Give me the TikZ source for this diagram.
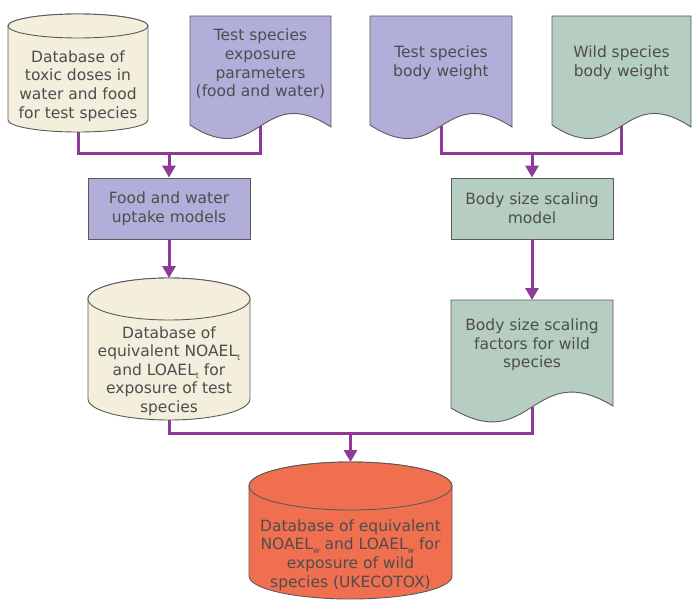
\documentclass[tikz,border=0pt]{standalone}
\usepackage{fontspec}
\setmainfont{DejaVu Sans}
\usetikzlibrary{arrows.meta}
\definecolor{cream}{HTML}{F3EFDC}
\definecolor{lav}{HTML}{B2AEDA}
\definecolor{sage}{HTML}{B6CEC1}
\definecolor{orng}{HTML}{EF6F4F}
\definecolor{wirecol}{HTML}{8E3A98}
\definecolor{txt}{HTML}{4D4D4D}
\definecolor{edgecol}{HTML}{5A5A5A}
\newcommand{\lowsub}[1]{\raisebox{-3.5pt}{\fontsize{8}{8}\selectfont #1}}
\begin{document}
\begin{tikzpicture}[x=1pt,y=-1pt,
  shapeline/.style={draw=edgecol,line width=0.9pt},
  lbl/.style={text=txt,font=\fontsize{15.5}{18.6}\selectfont,align=center,inner sep=0pt},
  boxnode/.style={shapeline,minimum width=162pt,minimum height=61pt,inner sep=0pt,lbl},
  wire/.style={draw=wirecol,line width=3pt,line join=miter},
  arr/.style={wire,-{Triangle[length=12pt,width=13pt]}}]
\useasboundingbox (0,0) rectangle (692,602);

% ---- cylinder 1
\path[shapeline,fill=cream] (8,26) -- (8,120) arc[start angle=180,end angle=0,x radius=70,y radius=12] -- (148,26) arc[start angle=0,end angle=-180,x radius=70,y radius=12] -- cycle;
\path[shapeline,fill=cream] (78,26) ellipse[x radius=70,y radius=12];
\node[lbl] (db1) at (78,86) {Database of\\toxic doses in\\water and food\\for test species};
\coordinate (db1 bot) at (78,132);

% ---- document 2
\path[shapeline,fill=lav] (190,16) -- (331,16) -- (331,127) .. controls (260.5,81) and (260.5,171) .. (190,125) -- cycle;
\node[lbl] (doc2) at (260.5,64) {Test species\\exposure\\parameters\\(food and water)};
\coordinate (doc2 bot) at (260.5,126);

% ---- document 3
\path[shapeline,fill=lav] (370,16) -- (512,16) -- (512,127) .. controls (441,81) and (441,171) .. (370,125) -- cycle;
\node[lbl] (doc3) at (441,63) {Test species\\body weight};
\coordinate (doc3 bot) at (441,126);

% ---- document 4
\path[shapeline,fill=sage] (552,16) -- (691,16) -- (691,127) .. controls (621.5,81) and (621.5,171) .. (552,125) -- cycle;
\node[lbl] (doc4) at (621.5,63) {Wild species\\body weight};
\coordinate (doc4 bot) at (621.5,126);

% ---- process boxes
\node[boxnode,fill=lav] (food) at (169,208.5) {Food and water\\uptake models};
\node[boxnode,fill=sage] (scale) at (532,208.5) {Body size scaling\\model};

% ---- cylinder 2
\path[shapeline,fill=cream] (88,299) -- (88,399) arc[start angle=180,end angle=0,x radius=81,y radius=21] -- (250,299) arc[start angle=0,end angle=-180,x radius=81,y radius=21] -- cycle;
\path[shapeline,fill=cream] (169,299) ellipse[x radius=81,y radius=21];
\node[lbl] (db2) at (169,371) {Database of\\equivalent NOAEL\lowsub{t}\\and LOAEL\lowsub{t} for\\exposure of test\\species};
\coordinate (db2 top) at (169,278);
\coordinate (db2 bot) at (169,420);

% ---- document 5
\path[shapeline,fill=sage] (451,300) -- (613,300) -- (613,406) .. controls (532,357) and (532,457) .. (451,408) -- cycle;
\node[lbl] (doc5) at (532,345) {Body size scaling\\factors for wild\\species};
\coordinate (doc5 top) at (532,300);
\coordinate (doc5 bot) at (532,407);

% ---- cylinder 3
\path[shapeline,fill=orng] (249,486) -- (249,576) arc[start angle=180,end angle=0,x radius=101.5,y radius=23] -- (452,486) arc[start angle=0,end angle=-180,x radius=101.5,y radius=24] -- cycle;
\path[shapeline,fill=orng] (350.5,486) ellipse[x radius=101.5,y radius=24];
\node[lbl] (db3) at (350.5,555) {Database of equivalent\\NOAEL\lowsub{w} and LOAEL\lowsub{w} for\\exposure of wild\\species (UKECOTOX)};
\coordinate (db3 top) at (350.5,462);

% ---- connectors
\coordinate (j1) at (169,153);
\coordinate (j2) at (532,153);
\coordinate (j3) at (350.5,433);
\draw[wire] (db1 bot) |- (j1) -| (doc2 bot);
\draw[arr] (j1) -- (food.north);
\draw[wire] (doc3 bot) |- (j2) -| (doc4 bot);
\draw[arr] (j2) -- (scale.north);
\draw[arr] (food.south) -- (db2 top);
\draw[arr] (scale.south) -- (doc5 top);
\draw[wire] (db2 bot) |- (j3) -| (doc5 bot);
\draw[arr] (j3) -- (db3 top);
\end{tikzpicture}
\end{document}
